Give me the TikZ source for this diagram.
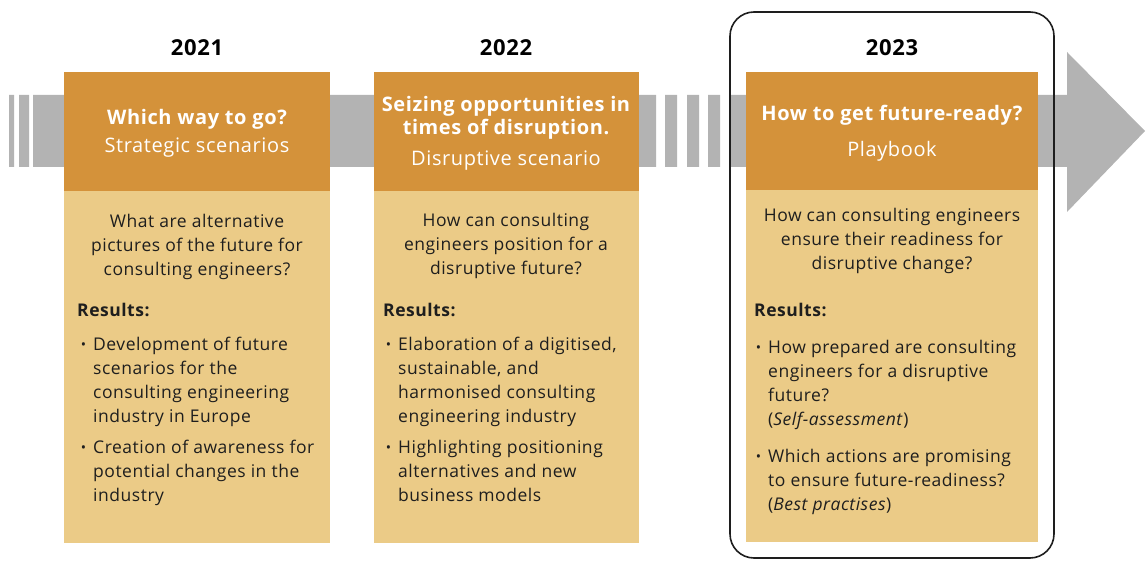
\documentclass[tikz,border=0pt]{standalone}
\usepackage{fontspec}
\setmainfont[LetterSpace=3]{Open Sans}
\usepackage{xcolor}
\definecolor{headorange}{HTML}{D4923A}
\definecolor{bodysand}{HTML}{EBCB87}
\definecolor{bandgray}{HTML}{B3B3B3}
\definecolor{inkdark}{HTML}{1E1E1E}
\newcommand\hangbul{\llap{\raisebox{1pt}{\scalebox{0.8}{\textbullet}}\hspace{7pt}}}

\begin{document}
\begin{tikzpicture}[x=1pt,y=-1pt,
    year/.style={inner sep=0, font=\fontsize{22}{26}\selectfont\bfseries},
    headtitle/.style={anchor=north, inner sep=0, align=center, text=white, font=\fontsize{20}{23}\selectfont\bfseries},
    headsub/.style={anchor=north, inner sep=0, align=center, text=white, font=\fontsize{20}{23}\selectfont},
    question/.style={anchor=north, inner sep=0, align=center, text=inkdark, font=\fontsize{17.5}{24}\selectfont},
    results/.style={anchor=north west, inner sep=0, text=inkdark, font=\fontsize{17.5}{24}\selectfont\bfseries},
    bulletitem/.style={anchor=north west, inner sep=0, align=left, text=inkdark, font=\fontsize{17.5}{24}\selectfont}]
            \useasboundingbox (0,0) rectangle (1146,561);

            \def\bandtop{95}
            \def\bandbot{167}

            \fill[bandgray] (9,\bandtop) rectangle (14,\bandbot) (19,\bandtop) rectangle (29,\bandbot)
                (33,\bandtop) rectangle (64,\bandbot) (330,\bandtop) rectangle (374,\bandbot)
                (639,\bandtop) rectangle (656,\bandbot) (665,\bandtop) rectangle (677,\bandbot)
                (687,\bandtop) rectangle (699,\bandbot) (708,\bandtop) rectangle (720,\bandbot)
                (731,\bandtop) rectangle (746,\bandbot) (1038,\bandtop) rectangle (1068,\bandbot);
            \fill[bandgray] (1067,52) -- (1145,131) -- (1067,212) -- cycle;

            \fill[headorange] (64,72) rectangle (330,191);
            \fill[bodysand] (64,191) rectangle (330,543);
            \fill[headorange] (374,72) rectangle (639,191);
            \fill[bodysand] (374,191) rectangle (639,543);
            \fill[headorange] (746,72) rectangle (1038,190);
            \fill[bodysand] (746,190) rectangle (1038,542);

            \draw[inkdark, line width=1.6, rounded corners=24] (730,12) rectangle (1054,558);

            \node[year] (fstyear) at (197,48) {2021};
            \node[year] (sndyear) at (506,48) {2022};
            \node[year] (thdyear) at (892,48) {2023};

            \node[headtitle] (fsttitle) at (197,108) {\strut Which way to go?};
            \node[headsub] (fstsub) at (197,136) {\strut Strategic scenarios};
            \node[headtitle] (sndtitle) at (506,95) {\strut Seizing opportunities in\\times of disruption.};
            \node[headsub] (sndsub) at (506,149) {\strut Disruptive scenario};
            \node[headtitle] (thdtitle) at (892,104) {\strut How to get future-ready?};
            \node[headsub] (thdsub) at (892,140) {\strut Playbook};

            \node[question] (fstquestion) at (197,211) {\strut What are alternative\\pictures of the future for\\consulting engineers?};
            \node[results] (fstresults) at (77,300) {\strut Results:};
            \node[bulletitem] (fstitema) at (93,333) {\strut\hangbul Development of future\\scenarios for the\\consulting engineering\\industry in Europe};
            \node[bulletitem] (fstitemb) at (93,436) {\strut\hangbul Creation of awareness for\\potential changes in the\\industry};

            \node[question] (sndquestion) at (506,210) {\strut How can consulting\\engineers position for a\\disruptive future?};
            \node[results] (sndresults) at (383,300) {\strut Results:};
            \node[bulletitem] (snditema) at (398,333) {\strut\hangbul Elaboration of a digitised,\\sustainable, and\\harmonised consulting\\engineering industry};
            \node[bulletitem] (snditemb) at (398,436) {\strut\hangbul Highlighting positioning\\alternatives and new\\business models};

            \node[question] (thdquestion) at (892,205) {\strut How can consulting engineers\\ensure their readiness for\\disruptive change?};
            \node[results] (thdresults) at (754,300) {\strut Results:};
            \node[bulletitem] (thditema) at (768,336) {\strut\hangbul How prepared are consulting\\engineers for a disruptive\\future?\\(\textit{Self-assessment})};
            \node[bulletitem] (thditemb) at (768,445) {\strut\hangbul Which actions are promising\\to ensure future-readiness?\\(\textit{Best practises})};
        \end{tikzpicture}
\end{document}
